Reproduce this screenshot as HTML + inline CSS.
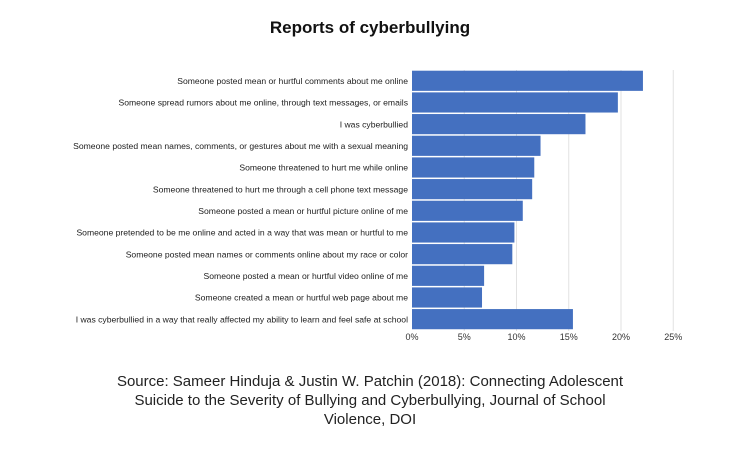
<!DOCTYPE html>
<html><head><meta charset="utf-8"><style>
body{margin:0;background:#fff;width:756px;height:454px;overflow:hidden;font-family:"Liberation Sans",sans-serif}
</style></head><body>
<svg width="756" height="454">
<text x="370" y="33" text-anchor="middle" font-size="17" font-weight="bold" fill="#111">Reports of cyberbullying</text>
<g id="grid"></g><g id="bars"></g><g id="labels"></g><g id="ticks"></g>
<text x="370" y="386" text-anchor="middle" font-size="15" fill="#222">Source: Sameer Hinduja &amp; Justin W. Patchin (2018): Connecting Adolescent</text>
<text x="370" y="405" text-anchor="middle" font-size="15" fill="#222">Suicide to the Severity of Bullying and Cyberbullying, Journal of School</text>
<text x="370" y="424" text-anchor="middle" font-size="15" fill="#222">Violence, DOI</text>
</svg>
<script>
const categories=["Someone posted mean or hurtful comments about me online","Someone spread rumors about me online, through text messages, or emails","I was cyberbullied","Someone posted mean names, comments, or gestures about me with a sexual meaning","Someone threatened to hurt me while online","Someone threatened to hurt me through a cell phone text message","Someone posted a mean or hurtful picture online of me","Someone pretended to be me online and acted in a way that was mean or hurtful to me","Someone posted mean names or comments online about my race or color","Someone posted a mean or hurtful video online of me","Someone created a mean or hurtful web page about me","I was cyberbullied in a way that really affected my ability to learn and feel safe at school"];
const values=[22.1,19.7,16.6,12.3,11.7,11.5,10.6,9.8,9.6,6.9,6.7,15.4];
const ticks=[0,5,10,15,20,25];
const tickLabels=["0%","5%","10%","15%","20%","25%"];
const NS="http://www.w3.org/2000/svg";
const x0=412,pxPer=10.45,top0=70.7,step=21.67;
const xs=v=>x0+v*pxPer;
const ys=i=>top0+i*step;
function mk(t,a,p){const e=document.createElementNS(NS,t);for(const k in a)e.setAttribute(k,a[k]);p.appendChild(e);return e;}
const G=document.getElementById('grid'),B=document.getElementById('bars'),L=document.getElementById('labels'),T=document.getElementById('ticks');
ticks.forEach((t,i)=>{
 if(t>0){const l=mk('line',{x1:xs(t),x2:xs(t),y1:70,y2:331,stroke:'#e2e2e2','stroke-width':1},G);
 
 }
 const tx=mk('text',{x:xs(t),y:340,'text-anchor':'middle','font-size':9,fill:'#333'},T);tx.textContent=tickLabels[i];
 
 
});
values.forEach((v,i)=>{
 const r=mk('rect',{x:x0,y:ys(i),width:xs(v)-x0,height:step-1.5,fill:'#4470c0'},B);
 
 
 const t=mk('text',{x:x0-4,y:ys(i)+step/2+2.5,'text-anchor':'end','font-size':8.6,fill:'#222'},L);t.textContent=categories[i];
 
 
});
</script>
</body></html>
